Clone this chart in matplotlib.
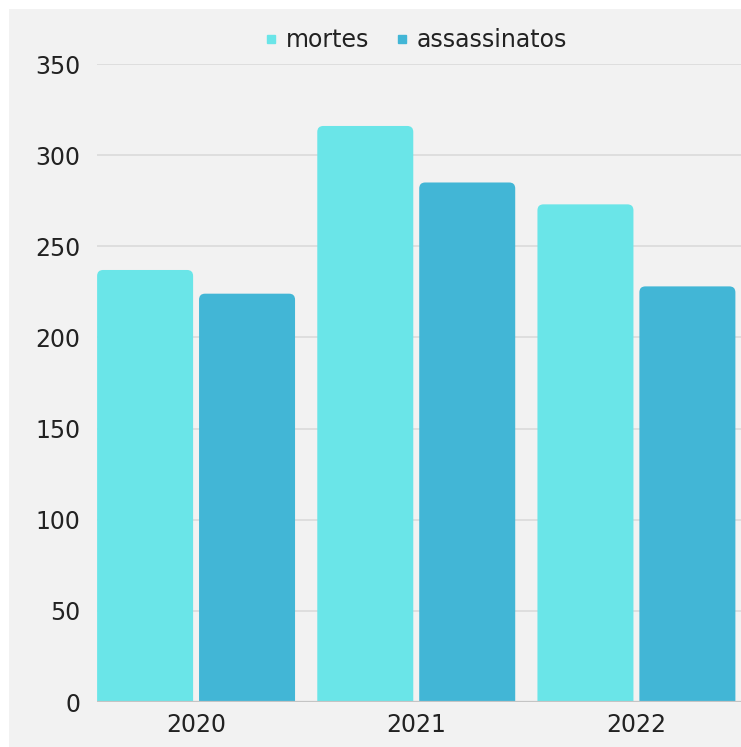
import matplotlib
matplotlib.use("Agg")
import matplotlib.pyplot as plt
import numpy as np
from matplotlib.path import Path
from matplotlib.patches import PathPatch, Rectangle
from matplotlib.lines import Line2D

plt.rcParams['font.family'] = ['DejaVu Sans']

# data
years = ['2020', '2021', '2022']
mortes = [237, 316, 273]
assassinatos = [224, 285, 228]
series_names = ['mortes', 'assassinatos']
colors = ['#6ae5e8', '#42b6d6']
yticks = [0, 50, 100, 150, 200, 250, 300, 350]


def rounded_top(x0, w, h, rx, ry):
    # bar path with rounded top corners only
    verts = [(x0, 0), (x0, h - ry), (x0, h), (x0 + rx, h),
             (x0 + w - rx, h), (x0 + w, h), (x0 + w, h - ry),
             (x0 + w, 0), (x0, 0)]
    codes = [Path.MOVETO, Path.LINETO, Path.CURVE3, Path.CURVE3,
             Path.LINETO, Path.CURVE3, Path.CURVE3, Path.LINETO,
             Path.CLOSEPOLY]
    return Path(verts, codes)


fig = plt.figure(figsize=(7.41, 7.47), dpi=100, facecolor='white')
# light grey panel behind everything
fig.patches.append(Rectangle((9 / 741, 0), 1, 1 - 9 / 747, transform=fig.transFigure,
                             facecolor='#f2f2f2', edgecolor='none', zorder=-10))

ax = fig.add_axes([97 / 741, 45 / 747, 1 - 97 / 741, (702 - 64) / 747])
ax.set_facecolor('none')

x = np.arange(len(years))
bw = 0.436
gap = 0.027
ax.set_xlim(-0.45, 2.475)
ax.set_ylim(0, 350)

# pixel -> data for corner radius
rx = 6 / 220
ry = 6 / (638 / 350)

for vals, col, off in [(mortes, colors[0], -(bw + gap) / 2), (assassinatos, colors[1], (bw + gap) / 2)]:
    bars = ax.bar(x + off, vals, width=bw, color=col, alpha=0)
    for b in bars:
        p = PathPatch(rounded_top(b.get_x(), b.get_width(), b.get_height(), rx, ry),
                      facecolor=col, edgecolor='none', zorder=3)
        ax.add_patch(p)

for t in yticks[1:]:
    ax.axhline(t, color='#dcdcdc', lw=1.3, zorder=1)
ax.axhline(0, color='#c4c4c4', lw=1.6, zorder=4)

for s in ax.spines.values():
    s.set_visible(False)
ax.set_yticks(yticks)
ax.set_xticks(x)
ax.set_xticklabels(years)
ax.tick_params(axis='both', length=0, labelsize=17, colors='#222222')
ax.tick_params(axis='y', pad=12)
ax.tick_params(axis='x', pad=8)

handles = [Line2D([], [], marker='s', ls='none', color=c, markersize=6) for c in colors]
fig.legend(handles, series_names, loc='center', bbox_to_anchor=(0.556, 0.946), ncol=2,
           frameon=False, fontsize=17, handletextpad=0.05, columnspacing=0.75,
           handlelength=1.2, labelcolor='#222222')

fig.savefig('out.png', dpi=100, facecolor='white')
